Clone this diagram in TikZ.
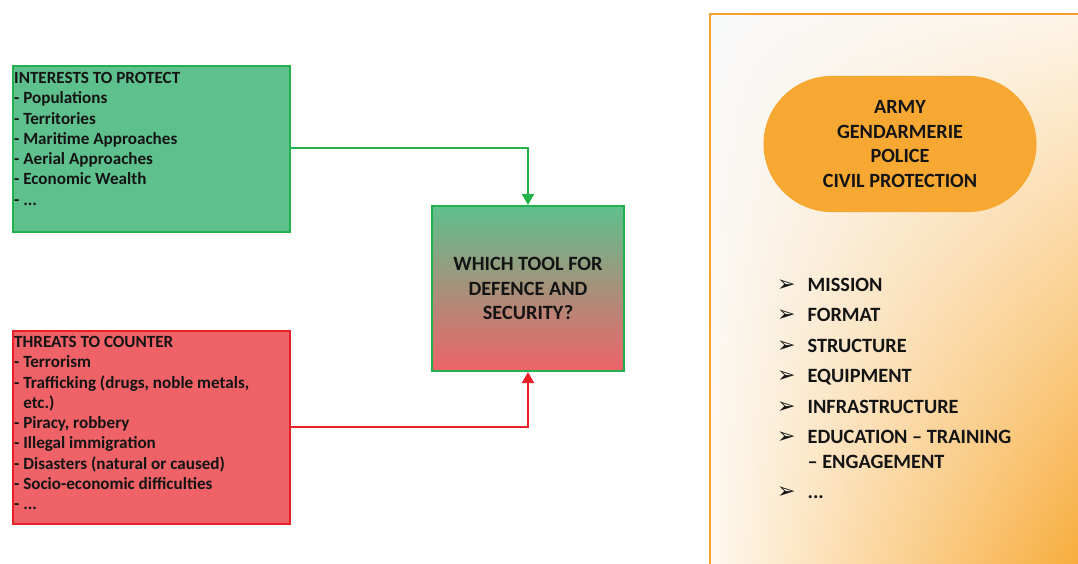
\documentclass[tikz,border=0pt]{standalone}
\usepackage{fontspec}
\setmainfont{Carlito}
\newfontfamily\djv{DejaVu Sans}
\usetikzlibrary{arrows.meta,shadings}
\definecolor{gfill}{RGB}{94,192,141}
\definecolor{gdraw}{RGB}{34,177,76}
\definecolor{rfill}{RGB}{238,98,104}
\definecolor{rdraw}{RGB}{232,32,40}
\definecolor{ofill}{RGB}{247,168,50}
\definecolor{odraw}{RGB}{247,160,48}
\definecolor{bgpanel}{RGB}{248,249,250}
\definecolor{ink}{RGB}{20,20,20}
\newcommand{\bul}{{\djv\mdseries\fontsize{22}{24.5}\selectfont ➢}}
\tikzset{
  box/.style={draw, line width=2pt, minimum width=277pt, inner sep=0pt},
  boxtext/.style={anchor=north west, align=left, inner sep=0pt, font=\bfseries\fontsize{17.1}{20.3}\selectfont, text=ink},
  link/.style={line width=2pt, -{Triangle[width=12pt,length=11pt]}},
}
\begin{document}
\begin{tikzpicture}[x=1pt,y=-1pt]
\useasboundingbox (0,0) rectangle (1078,564);
% right panel
\begin{scope}
\clip (0,0) rectangle (1078,564);
\shade[upper left=bgpanel, upper right=ofill!12, lower left=ofill!8, lower right=ofill] (710,14) rectangle (1090,580);
\draw[odraw, line width=2pt] (1090,14) -- (710,14) -- (710,580);
\end{scope}
% left boxes
\node[box, draw=gdraw, fill=gfill, minimum height=166pt, anchor=north west] (interests) at (12,65) {};
\node[boxtext] (interestst) at ([xshift=2pt,yshift=-7pt]interests.north west)
 {INTERESTS TO PROTECT\\- Populations\\- Territories\\- Maritime Approaches\\- Aerial Approaches\\- Economic Wealth\\- ...};
\node[box, draw=rdraw, fill=rfill, minimum height=193pt, anchor=north west] (threats) at (12,330) {};
\node[boxtext] (threatst) at ([xshift=2pt,yshift=-6pt]threats.north west)
 {THREATS TO COUNTER\\- Terrorism\\- Trafficking (drugs, noble metals,\\\hphantom{- }etc.)\\- Piracy, robbery\\- Illegal immigration\\- Disasters (natural or caused)\\- Socio-economic difficulties\\- ...};
% center box
\node[draw=gdraw, line width=2pt, top color=gfill, bottom color=rfill, middle color=gfill!50!rfill, minimum width=192pt, minimum height=165pt, inner sep=0pt, align=center, font=\bfseries\fontsize{20.3}{24.5}\selectfont, text=ink] (tool) at (528,288.5) {WHICH TOOL FOR\\DEFENCE AND\\SECURITY?};
% connectors
\coordinate (gc) at (527,148);
\coordinate (rc) at (527,427);
\draw[link, gdraw] (interests.east |- gc) -| (tool.north);
\draw[link, rdraw] (threats.east |- rc) -| (tool.south);
% pill
\node[fill=ofill, rounded corners=68pt, minimum width=273pt, minimum height=136pt, inner sep=0pt, align=center, font=\bfseries\fontsize{20.2}{24.7}\selectfont, text=ink] (forces) at (900,144) {ARMY\\GENDARMERIE\\POLICE\\CIVIL PROTECTION};
% list
\node[anchor=north west, inner sep=0pt, font=\bfseries\fontsize{20.3}{24.5}\selectfont, text=ink] (aspects) at (777,274) {%
\begin{tabular}{@{}l@{\hspace{12pt}}l@{}}
\bul & MISSION\\[6pt]
\bul & FORMAT\\[6pt]
\bul & STRUCTURE\\[6pt]
\bul & EQUIPMENT\\[6pt]
\bul & INFRASTRUCTURE\\[6pt]
\bul & EDUCATION – TRAINING\\
 & – ENGAGEMENT\\[6pt]
\bul & ...
\end{tabular}};
\end{tikzpicture}
\end{document}
